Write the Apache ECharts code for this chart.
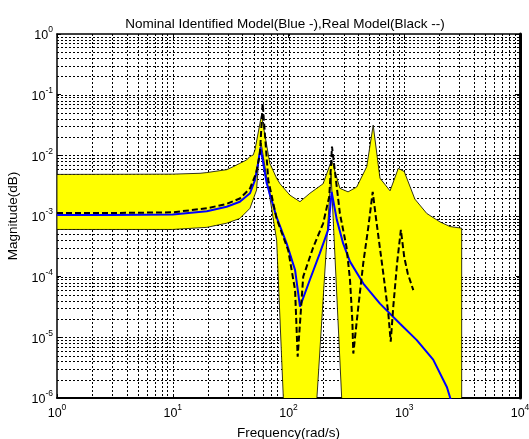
<!DOCTYPE html>
<html><head><meta charset="utf-8">
<script src="https://cdn.jsdelivr.net/npm/echarts@6/dist/echarts.min.js"></script>
<style>html,body{margin:0;padding:0;background:#fff}#c{width:529px;height:439px}</style>
</head><body><div id="c"></div>
<script>
// Nominal identified model (blue solid)
const nomFreq = [1, 3, 10, 19.7, 29.2, 38, 46.5, 51.3, 54.6, 57.3, 64.8, 79, 96.5, 114, 125.7, 153, 186, 220, 236, 261, 297, 340, 443, 617, 920, 1283, 1778, 2338, 2485, 2700];
const nomMag  = [1.04e-3, 1.04e-3, 1.06e-3, 1.2e-3, 1.42e-3, 1.72e-3, 2.37e-3, 3.9e-3, 7.4e-3, 1.35e-2, 3.46e-3, 9.5e-4, 3.5e-4, 1.28e-4, 3.2e-5, 8.9e-5, 2.4e-4, 5.9e-4, 2.5e-3, 8.8e-4, 3.5e-4, 1.77e-4, 7.7e-5, 3.6e-5, 1.67e-5, 9.0e-6, 4.3e-6, 1.5e-6, 1.03e-6, 6e-7];
// Real model (black dashed)
const realFreq = [1, 3, 10, 19.7, 29.2, 38, 46.5, 52.4, 56.7, 59.8, 66.9, 79, 99.5, 114, 120, 134, 164, 199, 225, 237.5, 278, 317, 340, 356, 363, 401, 443, 490, 534, 578, 659, 728, 764, 804, 868, 935, 1000, 1072, 1197];
const realMag  = [1.12e-3, 1.12e-3, 1.15e-3, 1.34e-3, 1.58e-3, 1.94e-3, 2.85e-3, 5.0e-3, 1.08e-2, 7.2e-2, 3.9e-3, 9.0e-4, 2.7e-4, 6e-5, 4.8e-6, 1.0e-4, 3.1e-4, 7.5e-4, 2.1e-3, 1.39e-2, 1.1e-3, 3.1e-4, 8.8e-5, 1.9e-5, 5.4e-6, 3.2e-5, 1.7e-4, 6.7e-4, 2.5e-3, 7.5e-4, 1.13e-4, 2.5e-5, 8.5e-6, 3.2e-5, 1.7e-4, 5.9e-4, 2.1e-4, 1.13e-4, 6e-5];
// Uncertainty band, upper bound
const upFreq = [1, 10, 17.2, 19.7, 29.2, 33.3, 38, 43.5, 46.5, 49.5, 51.3, 58.4, 69, 79, 84.5, 103, 125.7, 153, 199, 236, 278, 327, 388, 474, 539, 617, 754, 888, 1000, 1235, 1566, 2035, 2485, 3134];
const upMag  = [4.85e-3, 4.9e-3, 5.06e-3, 5.2e-3, 5.8e-3, 6.5e-3, 7.4e-3, 8.4e-3, 9.6e-3, 1.01e-2, 1.23e-2, 4.6e-2, 7.4e-3, 4.19e-3, 3.4e-3, 2.2e-3, 1.72e-3, 2.37e-3, 3.4e-3, 8.4e-3, 2.86e-3, 2.5e-3, 3.0e-3, 6.5e-3, 3.15e-2, 4.2e-3, 2.6e-3, 6.1e-3, 5.4e-3, 1.9e-3, 1.1e-3, 8.0e-4, 6.7e-4, 6.3e-4];
// Uncertainty band, lower bound (0 = bound at or below zero)
const loFreq = [1, 10, 19.7, 29.2, 38, 46.5, 53, 55, 58, 79, 90.2, 90.6, 175.5, 176, 233, 288, 288.5, 3134];
const loMag  = [6.0e-4, 6.0e-4, 6.5e-4, 7.6e-4, 9.1e-4, 1.34e-3, 2.68e-3, 7.4e-3, 1.6e-2, 4.0e-4, 1e-6, 0, 0, 1e-6, 5e-3, 1e-6, 0, 0];

const xMin = 1, xMax = 1e4, yMin = 1e-6, yMax = 1;
const FONT = '"Liberation Sans", Arial, sans-serif';

function gridVals(minExp, maxExp) {
  const out = [];
  for (let k = minExp; k < maxExp; k++) {
    for (let d = 1; d <= 9; d++) {
      if (d === 1 && k === minExp) continue;
      out.push(d * Math.pow(10, k));
    }
  }
  return out;
}
const xGrid = gridVals(0, 4);
const yGrid = gridVals(-6, 0);

function pow10Label(v) {
  const e = Math.round(Math.log10(v));
  return '{b|10}{s|' + e + '}';
}
const labelRich = {
  b: {fontSize: 12.5, fontFamily: FONT, color: '#000', lineHeight: 17, verticalAlign: 'bottom'},
  s: {fontSize: 8.5, fontFamily: FONT, color: '#000', lineHeight: 8, verticalAlign: 'top'}
};

const chart = echarts.init(document.getElementById('c'), null, {renderer: 'canvas'});
const floorVal = yMin / 1000;

chart.setOption({
  animation: false,
  backgroundColor: '#fff',
  textStyle: {fontFamily: FONT},
  title: {
    text: 'Nominal Identified Model(Blue -),Real Model(Black --)',
    left: 280, top: 12, textAlign: 'center',
    textStyle: {fontSize: 13.5, fontWeight: 'normal', color: '#000', fontFamily: FONT}
  },
  grid: {left: 57, right: 9, top: 34, bottom: 41, show: false, containLabel: false, outerBoundsMode: 'none'},
  xAxis: [{
    type: 'log', logBase: 10, min: xMin, max: xMax,
    name: 'Frequency(rad/s)', nameLocation: 'middle', nameGap: 28,
    nameTextStyle: {fontSize: 13.5, color: '#000', fontFamily: FONT},
    axisLine: {show: true, lineStyle: {color: '#000', width: 2}},
    axisTick: {show: true, inside: true, length: 4, lineStyle: {color: '#000'}},
    axisLabel: {formatter: pow10Label, rich: labelRich, margin: 5, showMinLabel: true, showMaxLabel: true},
    splitLine: {show: false}
  }, {
    type: 'log', logBase: 10, min: xMin, max: xMax, position: 'top',
    axisLine: {show: true, lineStyle: {color: '#000', width: 1.5}},
    axisTick: {show: true, inside: true, length: 4, lineStyle: {color: '#000'}},
    axisLabel: {show: false}, splitLine: {show: false}
  }],
  yAxis: [{
    type: 'log', logBase: 10, min: yMin, max: yMax,
    name: 'Magnitude(dB)', nameLocation: 'middle', nameGap: 33,
    nameTextStyle: {fontSize: 13.5, color: '#000', fontFamily: FONT},
    axisLine: {show: true, lineStyle: {color: '#000', width: 1.5}},
    axisTick: {show: true, inside: true, length: 4, lineStyle: {color: '#000'}},
    axisLabel: {formatter: pow10Label, rich: labelRich, margin: 4, showMinLabel: true, showMaxLabel: true},
    splitLine: {show: false}
  }, {
    type: 'log', logBase: 10, min: yMin, max: yMax, position: 'right',
    axisLine: {show: true, lineStyle: {color: '#000', width: 3}},
    axisTick: {show: true, inside: true, length: 4, lineStyle: {color: '#000'}},
    axisLabel: {show: false}, splitLine: {show: false}
  }],
  series: [
    {
      name: 'grid', type: 'custom', z: 1, silent: true,
      data: [[xMin * 10, yMin * 10]],
      renderItem: function (params, api) {
        const cs = params.coordSys;
        const children = [];
        const st = {stroke: '#000', lineWidth: 1, lineDash: [2, 2]};
        xGrid.forEach(function (v) {
          const x = Math.round(api.coord([v, 1e-3])[0]) + 0.5;
          children.push({type: 'line', shape: {x1: x, y1: cs.y, x2: x, y2: cs.y + cs.height}, style: st});
        });
        yGrid.forEach(function (v) {
          const y = Math.round(api.coord([10, v])[1]) + 0.5;
          children.push({type: 'line', shape: {x1: cs.x, y1: y, x2: cs.x + cs.width, y2: y}, style: st});
        });
        return {type: 'group', children: children};
      }
    },
    {
      name: 'band', type: 'custom', z: 2, silent: true, clip: true,
      data: [[upFreq[0], upMag[0]]],
      renderItem: function (params, api) {
        const cs = params.coordSys;
        const pts = [];
        for (let i = 0; i < upFreq.length; i++) pts.push(api.coord([upFreq[i], upMag[i]]));
        for (let i = loFreq.length - 1; i >= 0; i--) pts.push(api.coord([loFreq[i], Math.max(loMag[i], floorVal)]));
        return {
          type: 'polygon',
          shape: {points: pts},
          style: {fill: '#ffff00', stroke: '#000', lineWidth: 0.8},
          clipPath: {type: 'rect', shape: {x: cs.x, y: cs.y, width: cs.width, height: cs.height}}
        };
      }
    },
    {
      name: 'Nominal Identified Model', type: 'line', z: 3, symbol: 'none', clip: true,
      data: nomFreq.map(function (f, i) { return [f, nomMag[i]]; }),
      lineStyle: {color: '#0000ff', width: 2}
    },
    {
      name: 'Real Model', type: 'line', z: 4, symbol: 'none', clip: true,
      data: realFreq.map(function (f, i) { return [f, realMag[i]]; }),
      lineStyle: {color: '#000', width: 2, type: [6, 3]}
    }
  ]
});
</script></body></html>
